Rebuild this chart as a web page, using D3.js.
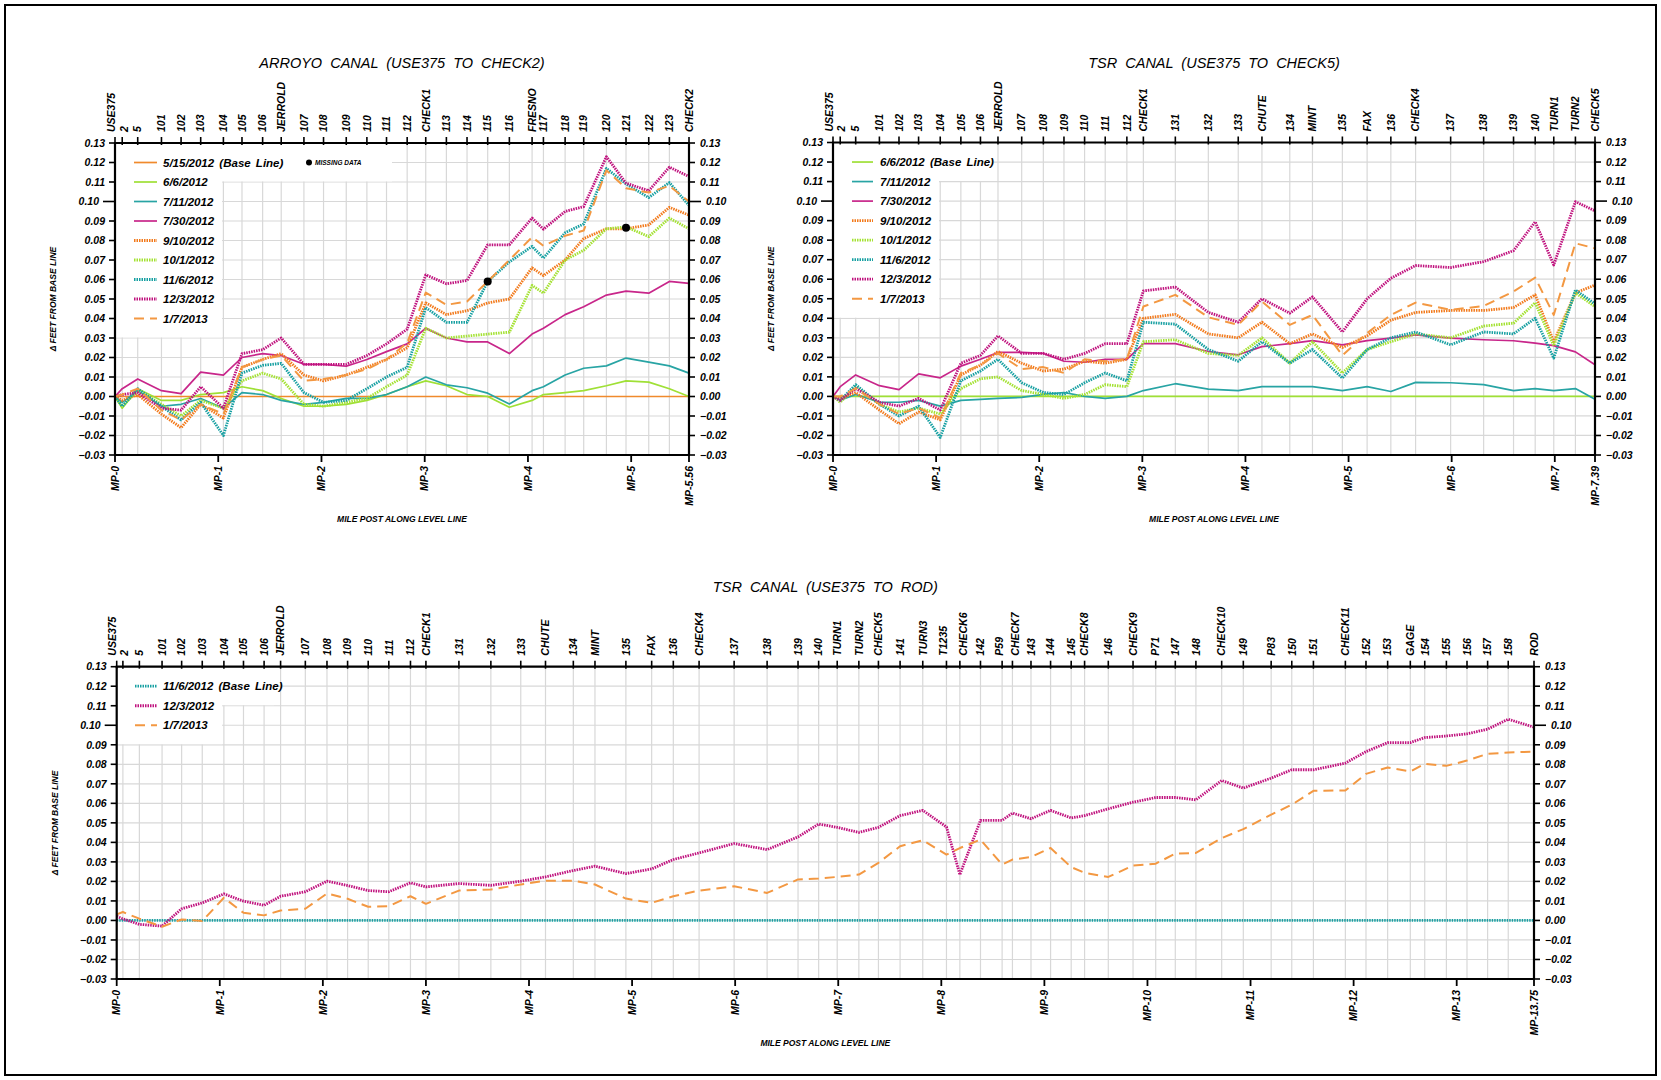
<!DOCTYPE html>
<html><head><meta charset="utf-8">
<script src="https://cdn.jsdelivr.net/npm/d3@7"></script>
<style>
body{margin:0;background:#fff}
svg{display:block}
text{font-family:"Liberation Sans",Arial,sans-serif;font-style:italic;fill:#000}
</style>
</head><body>
<svg id="c" width="1661" height="1080"></svg>
<script>
// ---------------- DATA ----------------
const Y_TICKS = [-0.03,-0.02,-0.01,0,0.01,0.02,0.03,0.04,0.05,0.06,0.07,0.08,0.09,0.10,0.11,0.12,0.13];
const Y_TICK_LABELS = ["\u22120.03","\u22120.02","\u22120.01","0.00","0.01","0.02","0.03","0.04","0.05","0.06","0.07","0.08","0.09","0.10","0.11","0.12","0.13"];

// Arroyo canal
const ARROYO_STATIONS = ["USE375","2","5","101","102","103","104","105","106","JERROLD","107","108","109","110","111","112","CHECK1","113","114","115","116","FRESNO","117","118","119","120","121","122","123","CHECK2"];
const ARROYO_MILES = [0,0.07,0.22,0.45,0.64,0.83,1.05,1.23,1.43,1.61,1.83,2.02,2.24,2.44,2.63,2.83,3.01,3.21,3.41,3.61,3.82,4.04,4.15,4.36,4.54,4.76,4.95,5.17,5.37,5.56];
const ARROYO_MP = [0,1,2,3,4,5,5.56];
const ARROYO_MP_LABELS = ["MP-0","MP-1","MP-2","MP-3","MP-4","MP-5","MP-5.56"];
const A_0515 = [0,0,0,0,0,0,0,0,0,0,0,0,0,0,0,0,0,0,0,0,0,0,0,0,0,0,0,0,0,0];
const A_0606 = [0,-0.006,0.004,-0.002,-0.002,0.001,0.002,0.005,0.003,-0.001,-0.005,-0.005,-0.004,-0.002,0.001,0.005,0.008,0.0055,0.001,0.000,-0.0055,-0.002,0.001,0.002,0.003,0.0055,0.008,0.0074,0.004,0.000];
const A_0711 = [0,-0.003,0.003,-0.005,-0.004,-0.001,-0.006,0.002,0.001,-0.002,-0.004,-0.003,-0.001,-0.001,0.001,0.005,0.010,0.006,0.0045,0.0017,-0.0038,0.003,0.005,0.011,0.0145,0.0157,0.0197,0.0176,0.0157,0.012];
const A_0730 = [0,0.004,0.009,0.003,0.0015,0.0125,0.011,0.020,0.022,0.021,0.0165,0.0165,0.0155,0.019,0.023,0.027,0.035,0.030,0.028,0.028,0.022,0.032,0.035,0.042,0.046,0.052,0.054,0.053,0.059,0.058];
const A_0910 = [0,-0.002,0.001,-0.009,-0.016,-0.004,-0.011,0.015,0.019,0.022,0.011,0.008,0.011,0.015,0.019,0.025,0.048,0.042,0.044,0.048,0.050,0.066,0.062,0.070,0.081,0.086,0.086,0.088,0.097,0.093];
const A_1001 = [0,-0.005,0.003,-0.004,-0.010,-0.002,-0.006,0.008,0.012,0.009,-0.004,-0.005,-0.003,-0.001,0.005,0.011,0.035,0.030,0.031,0.032,0.033,0.057,0.053,0.070,0.075,0.086,0.087,0.082,0.0915,0.086];
const A_1106 = [0,-0.005,0.004,-0.005,-0.012,-0.003,-0.020,0.012,0.016,0.017,0.002,-0.003,-0.002,0.004,0.010,0.015,0.0456,0.038,0.038,0.059,0.069,0.077,0.071,0.084,0.0885,0.117,0.109,0.102,0.1097,0.098];
const A_1203 = [0,0.001,0.002,-0.006,-0.007,0.005,-0.006,0.022,0.024,0.030,0.0165,0.0165,0.0165,0.021,0.027,0.0345,0.0624,0.0578,0.0595,0.0778,0.0778,0.0915,0.0858,0.0949,0.0974,0.123,0.1094,0.1055,0.1176,0.1128];
const A_0107 = [0,0.001,0.004,-0.007,-0.012,-0.004,-0.009,0.015,0.019,0.021,0.008,0.009,0.011,0.014,0.019,0.0274,0.0533,0.047,0.0487,0.059,0.070,0.0817,0.0773,0.0824,0.0851,0.116,0.1068,0.1046,0.108,0.100];
const ARROYO_MISSING_STATIONS = ["115","121"];
const ARROYO_MISSING_VALUES = [0.059,0.0865];

// TSR canal to CHECK5
const TSR_STATIONS = ["USE375","2","5","101","102","103","104","105","106","JERROLD","107","108","109","110","111","112","CHECK1","131","132","133","CHUTE","134","MINT","135","FAX","136","CHECK4","137","138","139","140","TURN1","TURN2","CHECK5"];
const TSR_MILES = [0,0.07,0.22,0.45,0.64,0.83,1.04,1.24,1.43,1.60,1.83,2.04,2.24,2.44,2.64,2.85,3.01,3.32,3.64,3.93,4.16,4.43,4.65,4.94,5.18,5.41,5.65,5.99,6.31,6.60,6.81,6.99,7.20,7.39];
const TSR_MP = [0,1,2,3,4,5,6,7,7.39];
const TSR_MP_LABELS = ["MP-0","MP-1","MP-2","MP-3","MP-4","MP-5","MP-6","MP-7","MP-7.39"];
const T_0606 = [0,0,0,0,0,0,0,0,0,0,0,0,0,0,0,0,0,0,0,0,0,0,0,0,0,0,0,0,0,0,0,0,0,0];
const T_0711 = [0,-0.002,0.001,-0.003,-0.003,-0.002,-0.005,-0.002,-0.0015,-0.001,-0.0005,0.001,0.002,0.000,-0.001,0.000,0.003,0.0065,0.0037,0.003,0.005,0.005,0.005,0.003,0.005,0.0025,0.0072,0.007,0.006,0.003,0.004,0.003,0.004,-0.0015];
const T_0730 = [0,0.005,0.011,0.0055,0.0035,0.0115,0.0095,0.0155,0.019,0.0225,0.0225,0.022,0.018,0.0175,0.019,0.019,0.027,0.027,0.023,0.0213,0.0255,0.027,0.0286,0.0264,0.0286,0.0298,0.0315,0.0298,0.029,0.0285,0.0273,0.026,0.0228,0.0162];
const T_0910 = [0,-0.001,0.002,-0.007,-0.014,-0.008,-0.012,0.011,0.016,0.023,0.017,0.013,0.014,0.018,0.017,0.019,0.040,0.042,0.032,0.030,0.038,0.027,0.032,0.025,0.031,0.039,0.043,0.044,0.044,0.0455,0.052,0.028,0.053,0.057];
const T_1001 = [0,-0.003,0.005,-0.004,-0.008,-0.006,-0.009,0.004,0.009,0.010,0.003,0.001,-0.001,0.001,0.006,0.005,0.028,0.029,0.022,0.021,0.030,0.017,0.028,0.012,0.024,0.028,0.032,0.030,0.036,0.0375,0.048,0.026,0.053,0.046];
const T_1106 = [0,-0.002,0.006,-0.004,-0.010,-0.005,-0.021,0.008,0.013,0.019,0.007,0.002,0.001,0.007,0.012,0.008,0.038,0.037,0.024,0.018,0.028,0.017,0.024,0.0094,0.024,0.030,0.033,0.0264,0.033,0.032,0.040,0.0196,0.0545,0.0474];
const T_1203 = [0,-0.002,0.004,-0.003,-0.005,-0.001,-0.007,0.017,0.021,0.031,0.022,0.022,0.019,0.022,0.027,0.027,0.054,0.056,0.043,0.038,0.050,0.0426,0.051,0.033,0.050,0.0605,0.067,0.066,0.069,0.0746,0.0894,0.0673,0.0997,0.095];
const T_0107 = [0,0.000,0.004,-0.004,-0.009,-0.006,-0.011,0.012,0.016,0.022,0.014,0.015,0.012,0.019,0.018,0.019,0.046,0.052,0.0405,0.0366,0.0486,0.0366,0.0417,0.021,0.0324,0.0417,0.048,0.0443,0.0463,0.0537,0.0608,0.0417,0.0784,0.0758];

// TSR canal to ROD
const ROD_STATIONS = ["USE375","2","5","101","102","103","104","105","106","JERROLD","107","108","109","110","111","112","CHECK1","131","132","133","CHUTE","134","MINT","135","FAX","136","CHECK4","137","138","139","140","TURN1","TURN2","CHECK5","141","TURN3","T1235","CHECK6","142","P59","CHECK7","143","144","145","CHECK8","146","CHECK9","P71","147","148","CHECK10","149","P83","150","151","CHECK11","152","153","GAGE","154","155","156","157","158","ROD"];
const ROD_MILES = [0,0.06,0.22,0.44,0.63,0.83,1.04,1.23,1.43,1.59,1.83,2.04,2.24,2.44,2.64,2.85,3.00,3.32,3.63,3.92,4.16,4.43,4.64,4.94,5.19,5.40,5.65,5.99,6.31,6.61,6.81,6.99,7.20,7.39,7.60,7.82,8.05,8.18,8.38,8.59,8.69,8.87,9.06,9.26,9.39,9.62,9.86,10.08,10.27,10.47,10.72,10.93,11.20,11.40,11.61,11.92,12.12,12.33,12.55,12.69,12.90,13.10,13.30,13.50,13.75];
const ROD_MP = [0,1,2,3,4,5,6,7,8,9,10,11,12,13,13.75];
const ROD_MP_LABELS = ["MP-0","MP-1","MP-2","MP-3","MP-4","MP-5","MP-6","MP-7","MP-8","MP-9","MP-10","MP-11","MP-12","MP-13","MP-13.75"];
const R_1106 = [0,0,0,0,0,0,0,0,0,0,0,0,0,0,0,0,0,0,0,0,0,0,0,0,0,0,0,0,0,0,0,0,0,0,0,0,0,0,0,0,0,0,0,0,0,0,0,0,0,0,0,0,0,0,0,0,0,0,0,0,0,0,0,0,0];
const R_1203 = [0.0022,0.0008,-0.002,-0.0029,0.006,0.009,0.0136,0.0099,0.0078,0.0124,0.0147,0.0201,0.0179,0.0153,0.0147,0.0193,0.0172,0.0189,0.018,0.0201,0.0223,0.0256,0.0278,0.024,0.0264,0.0312,0.0346,0.0394,0.0363,0.0428,0.0494,0.0477,0.0451,0.0477,0.0537,0.0564,0.0479,0.0235,0.0513,0.0513,0.055,0.0521,0.0564,0.0525,0.0537,0.0572,0.0606,0.063,0.063,0.0618,0.0717,0.0678,0.0729,0.0772,0.0772,0.0806,0.0865,0.0911,0.0911,0.0937,0.0945,0.0956,0.098,0.1031,0.099];
const R_0107 = [0.0031,0.0043,0.0009,-0.0032,0.0005,-0.0003,0.0116,0.0039,0.0026,0.0051,0.006,0.0138,0.0111,0.007,0.0073,0.0124,0.0085,0.0153,0.0158,0.0184,0.0204,0.0204,0.0184,0.0112,0.009,0.0124,0.0153,0.0175,0.0141,0.021,0.0215,0.0223,0.0235,0.0295,0.038,0.0411,0.0337,0.0371,0.0414,0.0286,0.0312,0.0325,0.0371,0.0273,0.0244,0.0223,0.0281,0.0291,0.0342,0.0346,0.0422,0.0468,0.0542,0.0593,0.0664,0.0666,0.0751,0.0784,0.0763,0.0802,0.0792,0.0819,0.0854,0.086,0.0865];

// ---------------- STYLES ----------------
const STYLE = {
  "5/15/2012":{color:"#f08a2c",type:"solid"},
  "6/6/2012":{color:"#9fe036",type:"solid"},
  "7/11/2012":{color:"#28a4a4",type:"solid"},
  "7/30/2012":{color:"#c8268a",type:"solid"},
  "9/10/2012":{color:"#f27a1c",type:"dotted"},
  "10/1/2012":{color:"#a4e232",type:"dotted"},
  "11/6/2012":{color:"#17a0a2",type:"dotted"},
  "12/3/2012":{color:"#c0127e",type:"dotted"},
  "1/7/2013":{color:"#f39842",type:"dashed"}
};
function applyStyle(sel, key){
  const s = STYLE[key];
  sel.attr("fill","none").attr("stroke",s.color).attr("stroke-linejoin","round");
  if(s.type==="solid") sel.attr("stroke-width",1.7);
  else if(s.type==="dotted") sel.attr("stroke-width",2.8).attr("stroke-dasharray","1.5,1");
  else sel.attr("stroke-width",2).attr("stroke-dasharray","10,6");
}

const svg = d3.select("#c");
svg.append("rect").attr("x",5).attr("y",5).attr("width",1651).attr("height",1070)
  .attr("fill","none").attr("stroke","#000").attr("stroke-width",2);

function drawChart(cfg){
  const g = svg.append("g");
  const x = d3.scaleLinear().domain([0, cfg.mp[cfg.mp.length-1]]).range([cfg.x0, cfg.x1]);
  const y = d3.scaleLinear().domain([-0.03, 0.13]).range([cfg.y1, cfg.y0]);
  const shift = Object.assign({"USE375":-4,"2":1.5}, cfg.labelShift||{});

  // grid
  g.append("g").selectAll("line").data(cfg.miles).join("line")
    .attr("x1",d=>x(d)).attr("x2",d=>x(d)).attr("y1",cfg.y0).attr("y2",cfg.y1)
    .attr("stroke","#d8d8d8").attr("stroke-width",1.2);
  g.append("g").selectAll("line").data(Y_TICKS).join("line")
    .attr("x1",cfg.x0).attr("x2",cfg.x1).attr("y1",d=>y(d)).attr("y2",d=>y(d))
    .attr("stroke","#d8d8d8").attr("stroke-width",1.2);
  // legend masks
  cfg.masks.forEach(m=>{
    g.append("rect").attr("x",cfg.x0+1).attr("y",cfg.y0+1)
      .attr("width",m.x-cfg.x0-1).attr("height",y(m.v)-cfg.y0-1.6).attr("fill","#fff");
  });

  // data lines
  const line = d3.line().x((d,i)=>x(cfg.miles[i])).y(d=>y(d));
  cfg.series.forEach(s=>{
    g.append("path").datum(s.values).attr("d",line).call(applyStyle, s.key);
  });
  if(cfg.missing){
    cfg.missing.stations.forEach((st,i)=>{
      const idx = cfg.stations.indexOf(st);
      g.append("circle").attr("cx",x(cfg.miles[idx])).attr("cy",y(cfg.missing.values[i])).attr("r",4).attr("fill","#000");
    });
  }

  // frame
  const fr = g.append("g").attr("stroke","#000").attr("stroke-width",2.2);
  fr.append("line").attr("x1",cfg.x0-1).attr("x2",cfg.x1+1).attr("y1",cfg.y0).attr("y2",cfg.y0);
  fr.append("line").attr("x1",cfg.x0-1).attr("x2",cfg.x1+1).attr("y1",cfg.y1).attr("y2",cfg.y1);
  fr.append("line").attr("x1",cfg.x0).attr("x2",cfg.x0).attr("y1",cfg.y0).attr("y2",cfg.y1);
  fr.append("line").attr("x1",cfg.x1).attr("x2",cfg.x1).attr("y1",cfg.y0).attr("y2",cfg.y1);

  // top station ticks and labels
  g.append("g").selectAll("line").data(cfg.miles).join("line")
    .attr("x1",d=>x(d)).attr("x2",d=>x(d)).attr("y1",cfg.y0-6).attr("y2",cfg.y0+2)
    .attr("stroke","#000").attr("stroke-width",1.6);
  g.append("g").selectAll("text").data(cfg.stations).join("text")
    .attr("transform",(d,i)=>`translate(${x(cfg.miles[i])+(shift[d]||0)},${cfg.y0-11}) rotate(-90)`)
    .attr("dy","0.36em").attr("font-size",10.5).attr("font-weight",600)
    .attr("text-anchor","start").text(d=>d);

  // bottom MP ticks + labels
  g.append("g").selectAll("line").data(cfg.mp).join("line")
    .attr("x1",d=>x(d)).attr("x2",d=>x(d)).attr("y1",cfg.y1).attr("y2",cfg.y1+7)
    .attr("stroke","#000").attr("stroke-width",1.8);
  g.append("g").selectAll("text").data(cfg.mpLabels).join("text")
    .attr("transform",(d,i)=>`translate(${x(cfg.mp[i])},${cfg.y1+11}) rotate(-90)`)
    .attr("dy","0.36em").attr("font-size",10.5).attr("font-weight","bold")
    .attr("text-anchor","end").text(d=>d);

  // y ticks both sides
  const tl = d=> Math.abs(d-0.10)<1e-9 ? 12 : 6;
  g.append("g").selectAll("line").data(Y_TICKS).join("line")
    .attr("x1",d=>cfg.x0-tl(d)).attr("x2",cfg.x0).attr("y1",d=>y(d)).attr("y2",d=>y(d))
    .attr("stroke","#000").attr("stroke-width",1.6);
  g.append("g").selectAll("line").data(Y_TICKS).join("line")
    .attr("x1",cfg.x1).attr("x2",d=>cfg.x1+tl(d)).attr("y1",d=>y(d)).attr("y2",d=>y(d))
    .attr("stroke","#000").attr("stroke-width",1.6);
  g.append("g").selectAll("text").data(Y_TICK_LABELS).join("text")
    .attr("x",(d,i)=>cfg.x0-tl(Y_TICKS[i])-4).attr("y",(d,i)=>y(Y_TICKS[i])).attr("dy","0.36em")
    .attr("text-anchor","end").attr("font-size",10.5).attr("font-weight","bold").text(d=>d);
  g.append("g").selectAll("text").data(Y_TICK_LABELS).join("text")
    .attr("x",(d,i)=>cfg.x1+tl(Y_TICKS[i])+5).attr("y",(d,i)=>y(Y_TICKS[i])).attr("dy","0.36em")
    .attr("text-anchor","start").attr("font-size",10.5).attr("font-weight","bold").text(d=>d);

  // titles
  g.append("text").attr("x",(cfg.x0+cfg.x1)/2).attr("y",cfg.y0-75).attr("text-anchor","middle")
    .attr("font-size",14.5).attr("word-spacing","4px").text(cfg.title);
  g.append("text").attr("transform",`translate(${cfg.x0-62},${(cfg.y0+cfg.y1)/2}) rotate(-90)`)
    .attr("dy","0.36em").attr("text-anchor","middle").attr("font-size",8.5).attr("font-weight","bold")
    .text("\u0394 FEET FROM BASE LINE");
  g.append("text").attr("x",(cfg.x0+cfg.x1)/2).attr("y",cfg.y1+67).attr("text-anchor","middle")
    .attr("font-size",8.5).attr("font-weight","bold").text("MILE POST ALONG LEVEL LINE");

  // legend
  cfg.series.forEach((s,i)=>{
    const yy = y(0.12 - i*0.01);
    g.append("line").attr("x1",cfg.lx0).attr("x2",cfg.lx1).attr("y1",yy).attr("y2",yy).call(applyStyle,s.key);
    g.append("text").attr("x",cfg.tx).attr("y",yy).attr("dy","0.36em").attr("font-size",11.5)
      .attr("font-weight",600).attr("word-spacing","2px").text(s.key + (i===0?" (Base Line)":""));
  });
  if(cfg.missing){
    const yy = y(0.12);
    g.append("circle").attr("cx",cfg.missing.lx).attr("cy",yy).attr("r",3).attr("fill","#000");
    g.append("text").attr("x",cfg.missing.lx+6).attr("y",yy).attr("dy","0.36em")
      .attr("font-size",6.5).attr("font-weight","bold").text("MISSING DATA");
  }
}

drawChart({
  title:"ARROYO CANAL (USE375 TO CHECK2)",
  x0:115, x1:689, y0:143, y1:455,
  stations:ARROYO_STATIONS, miles:ARROYO_MILES, mp:ARROYO_MP, mpLabels:ARROYO_MP_LABELS,
  series:[
    {key:"5/15/2012",values:A_0515},{key:"6/6/2012",values:A_0606},{key:"7/11/2012",values:A_0711},
    {key:"7/30/2012",values:A_0730},{key:"9/10/2012",values:A_0910},{key:"10/1/2012",values:A_1001},
    {key:"11/6/2012",values:A_1106},{key:"12/3/2012",values:A_1203},{key:"1/7/2013",values:A_0107}],
  masks:[{x:392,v:0.11},{x:222,v:0.03}],
  lx0:134, lx1:157, tx:163,
  missing:{stations:ARROYO_MISSING_STATIONS, values:ARROYO_MISSING_VALUES, lx:309}
});

drawChart({
  title:"TSR CANAL (USE375 TO CHECK5)",
  x0:833, x1:1595, y0:142.5, y1:455,
  stations:TSR_STATIONS, miles:TSR_MILES, mp:TSR_MP, mpLabels:TSR_MP_LABELS,
  series:[
    {key:"6/6/2012",values:T_0606},{key:"7/11/2012",values:T_0711},{key:"7/30/2012",values:T_0730},
    {key:"9/10/2012",values:T_0910},{key:"10/1/2012",values:T_1001},{key:"11/6/2012",values:T_1106},
    {key:"12/3/2012",values:T_1203},{key:"1/7/2013",values:T_0107}],
  masks:[{x:992,v:0.11},{x:939,v:0.04}],
  lx0:852, lx1:873, tx:880
});

drawChart({
  title:"TSR CANAL (USE375 TO ROD)",
  x0:116.7, x1:1534, y0:666.7, y1:979,
  stations:ROD_STATIONS, miles:ROD_MILES, mp:ROD_MP, mpLabels:ROD_MP_LABELS,
  series:[{key:"11/6/2012",values:R_1106},{key:"12/3/2012",values:R_1203},{key:"1/7/2013",values:R_0107}],
  masks:[{x:274,v:0.11},{x:222,v:0.09}],
  lx0:135, lx1:157, tx:163,
  labelShift:{"P59":-3,"CHECK7":3,"T1235":-3,"CHECK6":3}
});
</script>
</body></html>
